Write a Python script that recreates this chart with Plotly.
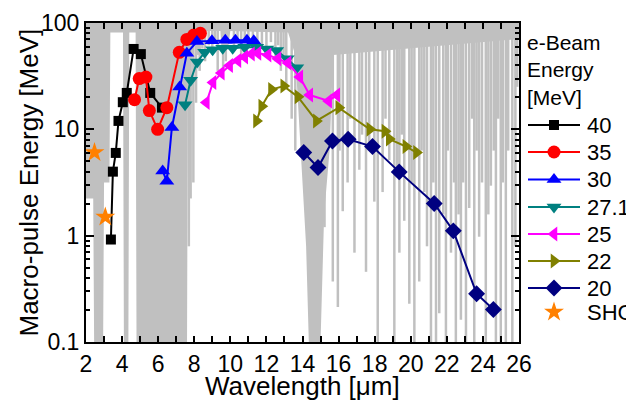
import plotly.graph_objects as go

# ---------------- data ----------------
w40 = [3.38, 3.49, 3.65, 3.80, 4.04, 4.26, 4.64, 5.04, 5.56, 6.21]
e40 = [0.92, 4.0, 6.0, 12, 18, 22, 57, 51, 22, 16]

w35 = [4.69, 4.95, 5.32, 5.51, 5.97, 6.48, 7.17, 7.59, 7.97, 8.34]
e35 = [19, 30, 31, 15, 10, 16, 53, 70, 77, 80]

w30 = [6.25, 6.48, 6.76, 7.19, 7.59, 8.15, 8.98, 9.72, 10.28, 10.92, 11.30]
e30 = [4.05, 3.25, 10.4, 25, 52, 67, 68, 69, 69, 69, 68]

w271 = [7.49, 7.80, 8.16, 8.58, 9.02, 9.58, 10.13, 10.80, 11.46, 12.02, 12.57, 13.15, 13.68]
e271 = [17, 29, 43, 53, 56, 58, 58, 59, 59, 57, 55, 46, 38]

w25 = [8.67, 9.04, 9.50, 9.96, 10.42, 10.80, 11.17, 11.53, 12.09, 12.64, 13.20, 13.85, 14.40, 15.45, 15.90]
e25 = [17.9, 27.6, 33.8, 39.8, 44.4, 48, 51, 52, 50, 46, 42, 31, 21, 18.5, 21]

w22 = [11.45, 11.74, 12.28, 12.96, 13.75, 14.77, 16.01, 17.73, 18.57, 18.81, 19.73, 20.32]
e22 = [12, 16.5, 23.7, 25.5, 20.2, 12, 16, 10, 9.6, 8.1, 6.9, 6.05]

w20 = [14.07, 14.86, 15.66, 16.53, 17.88, 19.36, 21.30, 22.36, 23.65, 24.58]
e20 = [6.05, 4.38, 7.76, 8.06, 6.89, 3.98, 2.01, 1.11, 0.284, 0.202]

w_shg = [2.47, 3.07]
e_shg = [6.05, 1.5]

# atmospheric transmission (background), fraction of plot height (0 = bottom, 1 = top)
env_x = [2.0, 2.4, 2.45, 2.95, 3.0, 3.3, 3.35, 4.05, 4.1, 4.35, 4.4, 4.75, 4.8,
         7.6, 7.65, 7.9, 8.0, 9.45, 9.5, 9.9, 10.0, 13.2, 13.6, 13.9, 14.2, 14.35,
         15.0, 15.2, 15.5, 15.7, 26.0]
env_T = [0.45, 0.45, 0.0, 0.0, 0.5, 0.5, 0.97, 0.97, 0.0, 0.0, 0.97, 0.97, 0.0,
         0.0, 0.85, 0.9, 0.975, 0.975, 0.93, 0.93, 0.975, 0.97, 0.9, 0.6, 0.3, 0.0,
         0.0, 0.4, 0.6, 0.9, 0.95]

line_x = [7.7, 7.8, 7.95, 8.1, 8.2, 8.3, 8.45, 8.6, 8.8, 9.0, 9.15, 9.3, 9.6, 9.75,
          10.2, 10.4, 10.6, 10.8, 11.0, 11.25, 11.5, 11.75, 12.0, 12.25, 12.5, 12.65,
          12.8, 12.95, 13.1, 13.4, 13.6,
          15.03, 15.22, 15.68, 15.96, 16.05, 16.23, 16.5, 16.65, 16.88, 17.15, 17.3,
          17.52, 17.7, 17.98, 18.17, 18.44, 18.6, 18.81, 19.09, 19.25, 19.37, 19.5,
          19.64, 19.92, 20.05, 20.2, 20.47, 20.6, 20.75, 20.9, 21.12, 21.25, 21.4,
          21.58, 21.8, 21.95, 22.05, 22.23, 22.4, 22.5, 22.65, 22.78, 22.9, 23.06,
          23.24, 23.4, 23.52, 23.65, 23.79, 23.95, 24.16, 24.3, 24.44, 24.6, 24.72,
          24.85, 24.99, 25.1, 25.27, 25.4, 25.63, 25.8, 25.9]
line_T = [0.3, 0.45, 0.5, 0.75, 0.9, 0.85, 0.92, 0.88, 0.93, 0.9, 0.94, 0.85, 0.85, 0.88,
          0.92, 0.94, 0.9, 0.94, 0.92, 0.94, 0.9, 0.93, 0.9, 0.94, 0.88, 0.93,
          0.85, 0.9, 0.8, 0.7, 0.6,
          0.34, 0.36, 0.19, 0.11, 0.6, 0.41, 0.5, 0.7, 0.28, 0.54, 0.65,
          0.22, 0.6, 0.44, 0.0, 0.47, 0.7, 0.57, 0.0, 0.55, 0.28, 0.65,
          0.38, 0.12, 0.5, 0.0, 0.19, 0.6, 0.47, 0.3, 0.0, 0.5, 0.0,
          0.09, 0.4, 0.0, 0.6, 0.28, 0.5, 0.0, 0.4, 0.07, 0.5, 0.0,
          0.42, 0.7, 0.0, 0.6, 0.33, 0.5, 0.0, 0.4, 0.49, 0.6, 0.0,
          0.7, 0.0, 0.5, 0.0, 0.6, 0.0, 0.3, 0.8]

x_ticks = list(range(2, 27))
x_labels = [str(v) if v % 2 == 0 else "" for v in x_ticks]
y_ticks = [0.1, 1, 10, 100]
y_labels = ["0.1", "1", "10", "100"]
y_minor = [m * 10 ** k for k in (-1, 0, 1) for m in range(2, 10)]

x_title = "Wavelength [\u03bcm]"
y_title = "Macro-pulse Energy [MeV]"
legend_title = "e-Beam<br>Energy<br>[MeV]"

Y_MIN_LOG, Y_MAX_LOG = -1, 2


def frac_to_y(t):
    return 10 ** (Y_MIN_LOG + (Y_MAX_LOG - Y_MIN_LOG) * t)


FONT = "Arial, Liberation Sans, sans-serif"
GRAY = "#C0C0C0"
FIG_W, FIG_H = 626, 392
ML, MT, MB = 78, 15, 58
PLOT_W = 433                      # width of the data panel (px)
AREA_W = FIG_W - ML               # width available right of the left margin
MAIN_DOM = PLOT_W / AREA_W

fig = go.Figure()

# background spectrum: filled envelope from curve to top
fig.add_trace(go.Scatter(
    x=env_x + [env_x[-1], env_x[0]],
    y=[frac_to_y(t) for t in env_T] + [frac_to_y(1), frac_to_y(1)],
    mode="lines", fill="toself", fillcolor=GRAY,
    line=dict(width=0, color=GRAY), hoverinfo="skip", showlegend=False))

# individual absorption lines hanging from the top
lx, ly = [], []
for xv, tv in zip(line_x, line_T):
    lx += [xv, xv, None]
    ly += [frac_to_y(tv), frac_to_y(1), None]
fig.add_trace(go.Scatter(x=lx, y=ly, mode="lines", line=dict(width=2.5, color=GRAY),
                         hoverinfo="skip", showlegend=False))

series = [
    ("40", w40, e40, "#000000", "square", 10),
    ("35", w35, e35, "#FF0000", "circle", 13),
    ("30", w30, e30, "#0000FF", "triangle-up", 13),
    ("27.1", w271, e271, "#008080", "triangle-down", 13),
    ("25", w25, e25, "#FF00FF", "triangle-left", 13),
    ("22", w22, e22, "#808000", "triangle-right", 13),
    ("20", w20, e20, "#000080", "diamond", 13),
]
for name, xs, ys, col, sym, sz in series:
    fig.add_trace(go.Scatter(
        x=xs, y=ys, name=name, mode="lines+markers", showlegend=False,
        line=dict(color=col, width=2),
        marker=dict(color=col, symbol=sym, size=sz, line=dict(width=0))))

SHG_COL = "#FF8000"
fig.add_trace(go.Scatter(
    x=w_shg, y=e_shg, name="SHG", mode="markers", showlegend=False,
    marker=dict(color=SHG_COL, symbol="star", size=15, line=dict(width=0))))

# helper trace for the right-hand tick axis
fig.add_trace(go.Scatter(x=[None], y=[None], yaxis="y2", showlegend=False, hoverinfo="skip"))

# ---- legend panel (pixel-like coordinates on its own hidden axes) ----
LEG_GAP = 4
leg_dom0 = (PLOT_W + LEG_GAP) / AREA_W
leg_x_range = [8 + ML + PLOT_W + LEG_GAP, 8 + FIG_W]
leg_y_range = [8 + FIG_H - MB, 8 + MT]
item_y = [125, 152, 179.5, 207, 234, 261, 288, 312]
line_x0, line_x1, text_x = 528, 580, 585

annotations = []
for (name, xs, ys, col, sym, sz), yy in zip(series, item_y):
    fig.add_trace(go.Scatter(
        x=[line_x0, line_x1], y=[yy, yy], xaxis="x3", yaxis="y3", mode="lines",
        line=dict(color=col, width=2), showlegend=False, hoverinfo="skip"))
    fig.add_trace(go.Scatter(
        x=[(line_x0 + line_x1) / 2], y=[yy], xaxis="x3", yaxis="y3", mode="markers",
        marker=dict(color=col, symbol=sym, size=sz, line=dict(width=0)),
        showlegend=False, hoverinfo="skip"))
    annotations.append(dict(x=text_x, y=yy, xref="x3", yref="y3", text=name,
                            showarrow=False, xanchor="left", yanchor="middle",
                            font=dict(family=FONT, size=22, color="black")))
fig.add_trace(go.Scatter(
    x=[(line_x0 + line_x1) / 2], y=[item_y[-1]], xaxis="x3", yaxis="y3", mode="markers",
    marker=dict(color=SHG_COL, symbol="star", size=15, line=dict(width=0)),
    showlegend=False, hoverinfo="skip"))
annotations.append(dict(x=text_x, y=item_y[-1], xref="x3", yref="y3", text="SHG",
                        showarrow=False, xanchor="left", yanchor="middle",
                        font=dict(family=FONT, size=22, color="black")))
annotations.append(dict(x=line_x0, y=29, xref="x3", yref="y3", text=legend_title,
                        showarrow=False, xanchor="left", yanchor="top", align="left",
                        xshift=-3,
                        font=dict(family=FONT, size=21, color="black")))

# axis titles placed as annotations relative to the data panel
annotations.append(dict(x=MAIN_DOM / 2, y=0, xref="paper", yref="paper", text=x_title,
                        showarrow=False, xanchor="center", yanchor="middle", yshift=-44,
                        font=dict(family=FONT, size=26, color="black")))
annotations.append(dict(x=0, y=0.5, xref="paper", yref="paper", text=y_title,
                        showarrow=False, xanchor="center", yanchor="middle", xshift=-58,
                        textangle=-90,
                        font=dict(family=FONT, size=26, color="black")))

tickfont = dict(family=FONT, size=23, color="black")

fig.update_layout(
    width=FIG_W, height=FIG_H,
    margin=dict(l=ML, r=0, t=MT, b=MB),
    paper_bgcolor="white", plot_bgcolor="white",
    font=dict(family=FONT, color="black"),
    showlegend=False,
    annotations=annotations,
    xaxis=dict(
        domain=[0, MAIN_DOM],
        range=[2, 26], tickvals=x_ticks, ticktext=x_labels,
        showline=True, linewidth=2, linecolor="black", mirror="ticks",
        ticks="inside", tickwidth=2, ticklen=6, tickcolor="black",
        showgrid=False, zeroline=False, tickfont=tickfont, automargin=False,
    ),
    yaxis=dict(
        type="log", range=[Y_MIN_LOG, Y_MAX_LOG],
        tickvals=y_ticks, ticktext=y_labels,
        showline=True, linewidth=2, linecolor="black", mirror=True,
        ticks="inside", tickwidth=2, ticklen=8, tickcolor="black",
        minor=dict(tickvals=y_minor, ticks="inside", ticklen=4, tickwidth=1.5, tickcolor="black"),
        showgrid=False, zeroline=False, tickfont=tickfont, automargin=False,
    ),
    yaxis2=dict(
        type="log", range=[Y_MIN_LOG, Y_MAX_LOG], overlaying="y", side="right",
        tickvals=y_ticks, showticklabels=False,
        showline=False, ticks="inside", tickwidth=2, ticklen=8, tickcolor="black",
        minor=dict(tickvals=y_minor, ticks="inside", ticklen=4, tickwidth=1.5, tickcolor="black"),
        showgrid=False, zeroline=False, automargin=False,
    ),
    xaxis3=dict(domain=[leg_dom0, 1], range=leg_x_range, anchor="y3", visible=False,
                fixedrange=True),
    yaxis3=dict(domain=[0, 1], range=leg_y_range, anchor="x3", visible=False,
                fixedrange=True),
)

fig.write_html("out.html")
